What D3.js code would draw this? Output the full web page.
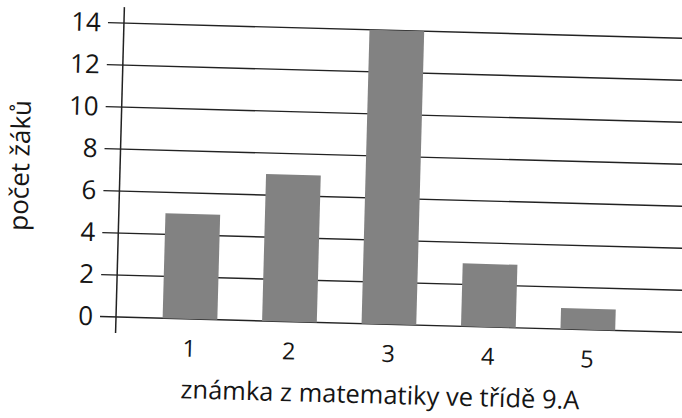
<!DOCTYPE html>
<html>
<head>
<meta charset="utf-8">
<script src="https://cdn.jsdelivr.net/npm/d3@7"></script>
<style>
  html, body { margin: 0; padding: 0; background: #fff; }
  svg { display: block; }
  text { font-family: "Open Sans", "Noto Sans", sans-serif; fill: #151515; }
</style>
</head>
<body>
<script>
// ---- data ----
const categories = ["1", "2", "3", "4", "5"];
const counts = [5, 7, 14, 3, 1];
const yTicks = [0, 2, 4, 6, 8, 10, 12, 14];
const xTitle = "známka z matematiky ve třídě 9.A";
const yTitle = "počet žáků";

// ---- layout ----
const W = 682, H = 418;
const ox = 116, oy = 317;          // plot origin (axis meets zero line)
const skew = 1.55;                 // scan rotation in degrees

const svg = d3.select("body").append("svg")
  .attr("width", W).attr("height", H);
svg.append("rect").attr("width", W).attr("height", H).attr("fill", "#fff");

const g = svg.append("g").attr("transform", `rotate(${skew},${ox},${oy})`);

const y = d3.scaleLinear().domain([0, 14]).range([oy, 23]);
const x = d3.scaleBand().domain(categories)
  .range([ox + 24.25, ox + 521.75])
  .paddingInner(0.45).paddingOuter(0.225);

// gridlines (with short tick stubs left of the axis)
g.append("g").selectAll("line").data(yTicks).join("line")
  .attr("x1", ox - 16).attr("x2", 730)
  .attr("y1", d => y(d)).attr("y2", d => y(d))
  .attr("stroke", "#222").attr("stroke-width", 1.4);

// bars
g.append("g").selectAll("rect").data(counts).join("rect")
  .attr("x", (d, i) => x(categories[i]))
  .attr("width", x.bandwidth())
  .attr("y", d => y(d))
  .attr("height", d => y(0) - y(d))
  .attr("fill", "#828282");

// y axis line
g.append("line")
  .attr("x1", ox).attr("x2", ox)
  .attr("y1", oy + 16).attr("y2", y(14) - 16)
  .attr("stroke", "#222").attr("stroke-width", 1.5);

// y tick labels via d3 axis
const yAxis = g.append("g").attr("transform", `translate(${ox},0)`)
  .call(d3.axisLeft(y).tickValues(yTicks).tickSizeInner(16).tickSizeOuter(0).tickPadding(7));
yAxis.select(".domain").remove();
yAxis.selectAll(".tick line").remove();
yAxis.selectAll("text")
  .attr("font-size", 26).attr("font-family", "'Open Sans', sans-serif")
  .attr("fill", "#151515");

// x tick labels via d3 axis
const xAxis = g.append("g").attr("transform", `translate(0,${oy})`)
  .call(d3.axisBottom(x).tickSize(0).tickPadding(21));
xAxis.select(".domain").remove();
xAxis.selectAll("text")
  .attr("font-size", 23.5).attr("font-family", "'Open Sans', sans-serif")
  .attr("fill", "#151515");

// axis titles
g.append("text")
  .attr("x", 382).attr("y", 396.5)
  .attr("text-anchor", "middle")
  .attr("font-size", 25.5)
  .text(xTitle);

g.append("text")
  .attr("transform", "translate(25,168) rotate(-90)")
  .attr("text-anchor", "middle")
  .attr("font-size", 26)
  .text(yTitle);
</script>
</body>
</html>
